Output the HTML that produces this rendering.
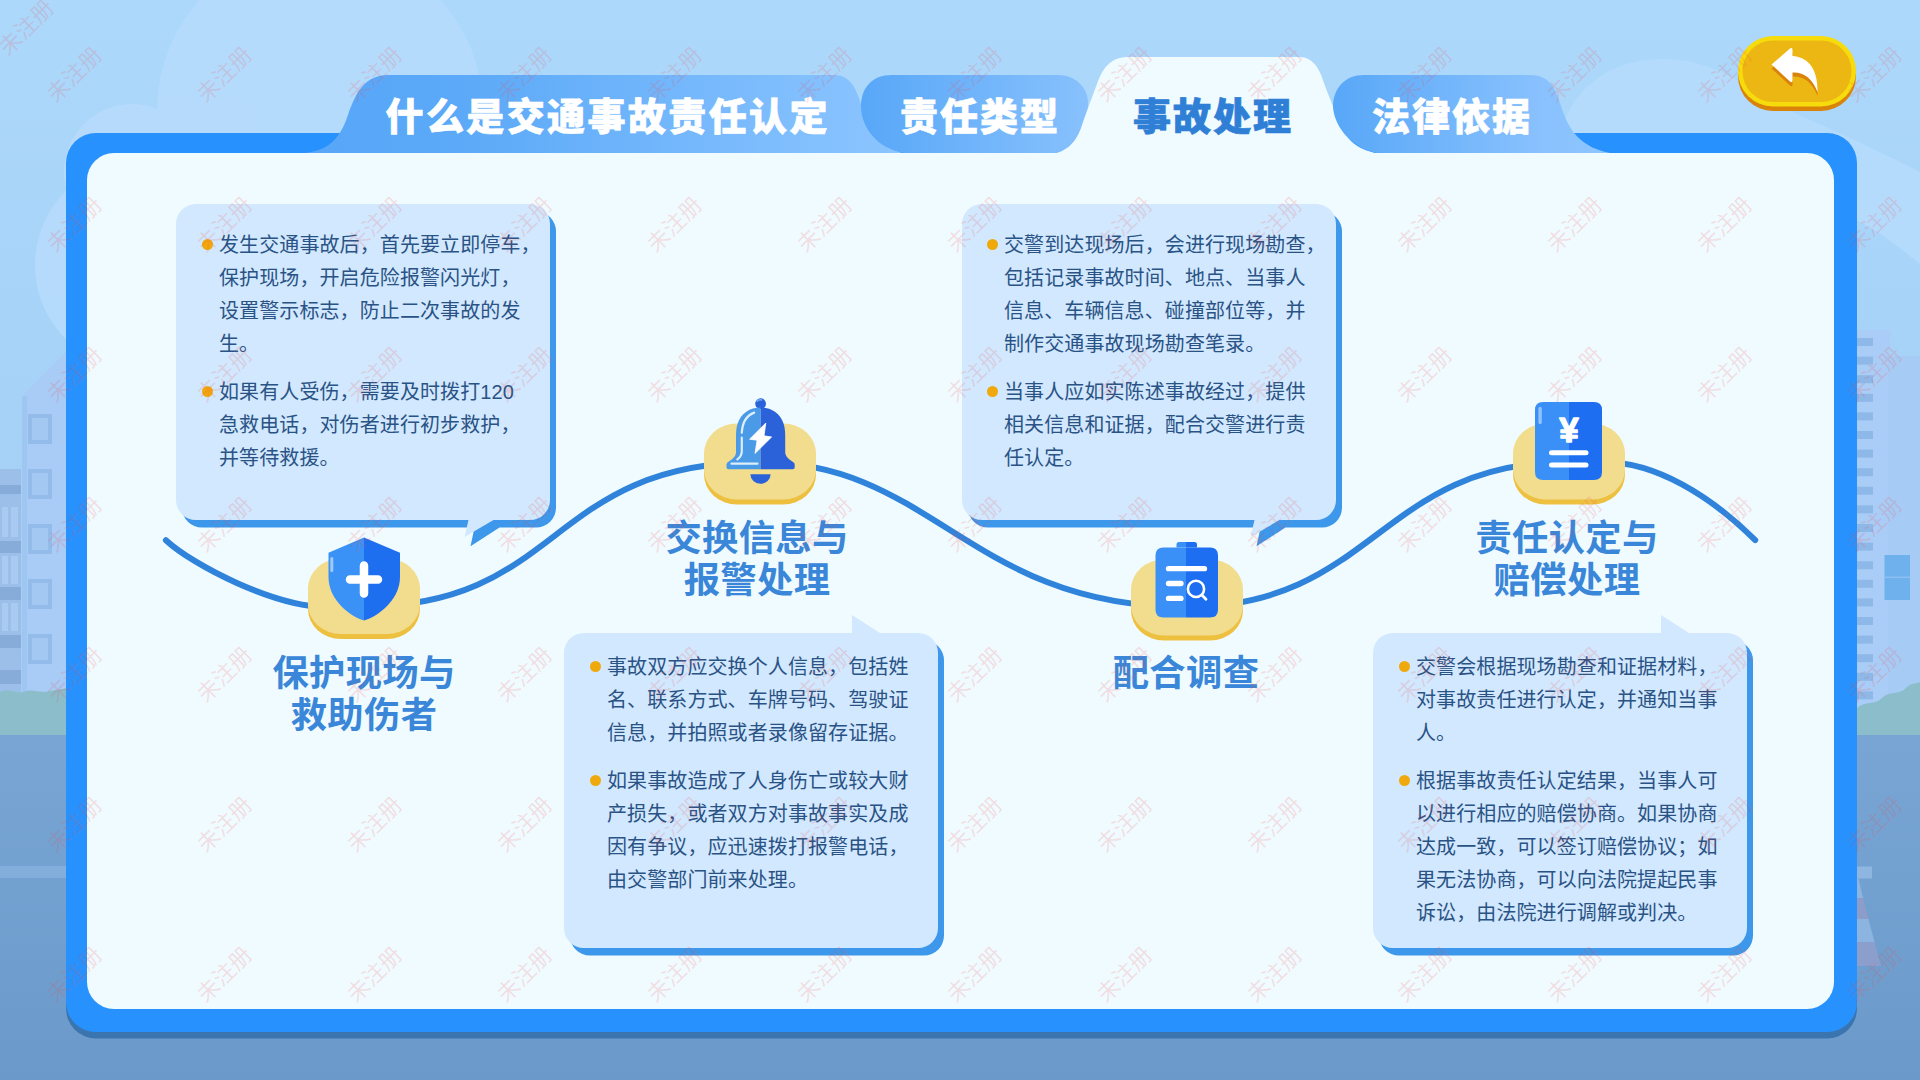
<!DOCTYPE html>
<html lang="zh-CN">
<head>
<meta charset="utf-8">
<title>事故处理</title>
<style>
html,body{margin:0;padding:0;}
body{width:1920px;height:1080px;overflow:hidden;position:relative;background:#acd8fb;
  font-family:"Liberation Sans","Noto Sans CJK SC",sans-serif;}
#stage{position:absolute;left:0;top:0;width:1920px;height:1080px;overflow:hidden;}
svg.layer{position:absolute;left:0;top:0;width:1920px;height:1080px;display:block;}
.tab{position:absolute;top:89px;-webkit-text-stroke:0.7px currentColor;height:56px;line-height:56px;font-size:38px;font-weight:900;
  letter-spacing:2px;color:#fff;white-space:nowrap;}
.tab.on{color:#2f7fd6;}
.h{position:absolute;width:300px;text-align:center;font-size:36.300px;font-weight:700;line-height:42px;
  color:#3a86d8;white-space:nowrap;letter-spacing:0.350px;}
.txt{position:absolute;font-size:20px;line-height:33px;color:#2a5385;white-space:nowrap;letter-spacing:0.1px;}
.txt p{margin:0 0 15px 0;position:relative;}
.txt p:before{content:"";position:absolute;left:-17.500px;top:10px;width:11px;height:11px;border-radius:50%;background:#f0a90c;}
.wm{position:absolute;width:120px;height:30px;margin:-15px 0 0 -60px;line-height:30px;text-align:center;
  font-size:22.400px;font-weight:400;color:rgba(240,75,75,0.165);transform:rotate(-45deg);white-space:nowrap;pointer-events:none;}
</style>
</head>
<body>
<div id="stage">
<!-- ================= BACKGROUND ================= -->
<svg class="layer" id="bg" viewBox="0 0 1920 1080">
  <defs>
    <linearGradient id="sky" x1="0" y1="0" x2="0" y2="1">
      <stop offset="0" stop-color="#acd8fb"/>
      <stop offset="1" stop-color="#a3cdf5"/>
    </linearGradient>
    <linearGradient id="ground" x1="0" y1="0" x2="0" y2="1">
      <stop offset="0" stop-color="#78a5d4"/>
      <stop offset="1" stop-color="#6b9aca"/>
    </linearGradient>
    <linearGradient id="t1" x1="0" y1="0" x2="1" y2="0">
      <stop offset="0" stop-color="#58a6f8"/>
      <stop offset="1" stop-color="#8dc5ff"/>
    </linearGradient>
  </defs>
  <rect x="0" y="0" width="1920" height="740" fill="url(#sky)"/>
  <!-- clouds -->
  <g fill="#b8dcfd" opacity="0.8">
    <circle cx="320" cy="110" r="163"/>
    <circle cx="132" cy="172" r="68"/>
    <circle cx="140" cy="265" r="105"/>
    <path d="M1560,140 C1565,100 1600,60 1660,59 C1710,59 1740,80 1765,100 C1800,116 1840,132 1920,172 L1920,264 C1890,240 1870,225 1850,218 L1850,140 Z"/>
  </g>
  <!-- left buildings -->
  <g>
    <rect x="0" y="469" width="21" height="226" fill="#9bbfe9"/>
    <g fill="#88acd9"><rect x="0" y="485" width="21" height="9"/><rect x="0" y="541" width="21" height="12"/><rect x="0" y="587" width="21" height="13"/><rect x="0" y="635" width="21" height="13"/><rect x="0" y="670" width="21" height="14"/></g>
    <g fill="#aacbf1"><rect x="2" y="507" width="6" height="30"/><rect x="11" y="507" width="7" height="30"/><rect x="2" y="556" width="6" height="28"/><rect x="11" y="556" width="7" height="28"/><rect x="2" y="603" width="6" height="28"/><rect x="11" y="603" width="7" height="28"/></g>
    <path d="M22,396 L66,352 L66,694 L22,694 Z" fill="#a8ccf6"/>
    <rect x="22" y="396" width="5" height="298" fill="#9fc5f1"/>
    <g fill="#94bcea"><rect x="28" y="414" width="24" height="30"/><rect x="32" y="418" width="16" height="22" fill="#a3c8f2"/><rect x="28" y="469" width="24" height="30"/><rect x="32" y="473" width="16" height="22" fill="#a3c8f2"/><rect x="28" y="524" width="24" height="30"/><rect x="32" y="528" width="16" height="22" fill="#a3c8f2"/><rect x="28" y="579" width="24" height="30"/><rect x="32" y="583" width="16" height="22" fill="#a3c8f2"/><rect x="28" y="634" width="24" height="30"/><rect x="32" y="638" width="16" height="22" fill="#a3c8f2"/></g>
  </g>
  <!-- right buildings -->
  <g>
    <rect x="1857" y="330" width="33" height="400" fill="#a9cdf6"/>
    <rect x="1888" y="356" width="32" height="380" fill="#a6cbf5"/>
    <g fill="#8eb8e7"><rect x="1857" y="338.0" width="16" height="8"/><rect x="1857" y="356.6" width="16" height="8"/><rect x="1857" y="375.2" width="16" height="8"/><rect x="1857" y="393.8" width="16" height="8"/><rect x="1857" y="412.4" width="16" height="8"/><rect x="1857" y="431.0" width="16" height="8"/><rect x="1857" y="449.6" width="16" height="8"/><rect x="1857" y="468.2" width="16" height="8"/><rect x="1857" y="486.8" width="16" height="8"/><rect x="1857" y="505.4" width="16" height="8"/><rect x="1857" y="524.0" width="16" height="8"/><rect x="1857" y="542.6" width="16" height="8"/><rect x="1857" y="561.2" width="16" height="8"/><rect x="1857" y="579.8" width="16" height="8"/><rect x="1857" y="598.4" width="16" height="8"/><rect x="1857" y="617.0" width="16" height="8"/><rect x="1857" y="635.6" width="16" height="8"/><rect x="1857" y="654.2" width="16" height="8"/><rect x="1857" y="672.8" width="16" height="8"/><rect x="1857" y="691.4" width="16" height="8"/></g>
    <rect x="1884.500" y="555" width="25.500" height="45" fill="#6fb1ed"/>
    <rect x="1884.500" y="576.500" width="25.500" height="1.500" fill="#8cc0f2"/>
  </g>
  <!-- bushes -->
  <path d="M0,692 C8,688 16,694 24,692 C32,688 40,694 50,691 C58,689 62,690 66,688 L66,740 L0,740 Z" fill="#8bbdcb"/>
  <path d="M1857,708 C1866,700 1874,706 1882,698 C1890,690 1898,696 1906,688 C1912,682 1917,684 1920,682 L1920,745 L1857,745 Z" fill="#8bbdcb"/>
  <!-- ground -->
  <rect x="0" y="735" width="1920" height="345" fill="url(#ground)"/>
  <rect x="0" y="866" width="100" height="12" fill="#83aedb"/>
  <!-- cone hints right -->
  <rect x="1857" y="866.500" width="15" height="12" fill="#8fb6e1"/>
  <path d="M1857,878.500 L1858.500,878.500 L1863,898 L1857,898 Z" fill="#8db5e0"/>
  <path d="M1857,898 L1863,898 L1868.500,919 L1857,919 Z" fill="#8d9dca"/>
  <path d="M1857,919 L1868.500,919 L1874.500,942 L1857,942 Z" fill="#8cb4e0"/>
  <path d="M1857,942 L1874.500,942 L1881,966 L1857,966 Z" fill="#8c9ecb"/>
</svg>

<!-- ================= FRAME + TABS ================= -->
<svg class="layer" id="frame" viewBox="0 0 1920 1080">
  <defs>
    <linearGradient id="tg1" gradientUnits="userSpaceOnUse" x1="309" y1="0" x2="902" y2="0">
      <stop offset="0" stop-color="#57a6f8"/><stop offset="0.25" stop-color="#5ba9f8"/><stop offset="1" stop-color="#8cc5ff"/>
    </linearGradient>
    <linearGradient id="tg2" gradientUnits="userSpaceOnUse" x1="861" y1="0" x2="1090" y2="0">
      <stop offset="0" stop-color="#58a7f8"/><stop offset="1" stop-color="#88c1fd"/>
    </linearGradient>
    <linearGradient id="tg4" gradientUnits="userSpaceOnUse" x1="1333" y1="0" x2="1608" y2="0">
      <stop offset="0" stop-color="#58a7f8"/><stop offset="0.75" stop-color="#88c1fd"/><stop offset="1" stop-color="#8cc5ff"/>
    </linearGradient>
  </defs>
  <!-- frame shadow + frame -->
  <rect x="66" y="139.5" width="1791" height="899" rx="30" ry="30" fill="#3a75b0"/>
  <rect x="66" y="133" width="1791" height="899" rx="30" ry="30" fill="#2792fd"/>
  <!-- tab 1 -->
  <path d="M304,153 C328,151 340,139 348,115 C356,91 366,75 388,75 L834,75 C850,75 856,88 861,104 C866,122 872,140 902,153 Z" fill="url(#tg1)"/>
  <!-- tab 2 -->
  <path d="M904,153 C878,149 861,128 861,106 C861,88 872,75 892,75 L1058,75 C1076,75 1088,88 1088,103 C1088,124 1084,153 1070,153 Z" fill="url(#tg2)"/>
  <!-- inner panel + active tab -->
  <rect x="87" y="153" width="1747" height="856" rx="27" ry="27" fill="#f0fbff"/>
  <path d="M1044,156 C1066,153 1075,144 1081,128 C1086,113 1091,100 1097,84 C1103,67 1111,57 1129,57 L1299,57 C1314,57 1320,70 1324.500,84.500 C1329,97 1336,114 1343,129 C1349,142 1358,151 1390,156 Z" fill="#f0fbff"/>
  <!-- tab 4 -->
  <path d="M1377,153 C1352,148 1335,128 1333,107.500 C1333,88 1345,75 1364,75 L1530,75 C1548,75 1554,86 1559,100 C1566,122 1574,146 1610,153 Z" fill="url(#tg4)"/>
</svg>

<div class="tab" style="left:385.500px;letter-spacing:2.400px;">什么是交通事故责任认定</div>
<div class="tab" style="left:900px;">责任类型</div>
<div class="tab on" style="left:1133px;">事故处理</div>
<div class="tab" style="left:1372px;">法律依据</div>

<!-- ================= BACK BUTTON ================= -->
<svg class="layer" id="btn" viewBox="0 0 1920 1080">
  <rect x="1738" y="41" width="118" height="70" rx="35" fill="#d9830a"/>
  <rect x="1738" y="36" width="118" height="70.5" rx="35" fill="#f6dc0c"/>
  <rect x="1742.5" y="40.5" width="109" height="61.5" rx="30.5" fill="#edb713"/>
  <path id="arw" d="M1771.5,64.5 L1790,48.5 Q1792.500,47 1792.500,50 L1792.500,56 C1806,57 1818,66 1817.500,92 C1812,78 1804,72 1792.500,72.500 L1792.500,80 Q1792.500,83.500 1790,81.500 Z" fill="#d9830a" transform="translate(0,4)"/>
  <path d="M1771.5,64.5 L1790,48.5 Q1792.500,47 1792.500,50 L1792.500,56 C1806,57 1818,66 1817.500,92 C1812,78 1804,72 1792.500,72.500 L1792.500,80 Q1792.500,83.500 1790,81.500 Z" fill="#ffffff"/>
</svg>

<!-- ================= WAVE / BUBBLES / ICONS ================= -->
<svg class="layer" id="shapes" viewBox="0 0 1920 1080">
  <!-- wave line -->
  <path d="M165.900,540.200 C193.600,565.800 275,607 327.200,607 L360,607 C565,607 545,462 760,462 C932.700,462 970.700,607 1186,607 C1374.700,607 1379.300,462 1568,462 L1603.900,462 C1655.400,462 1710.400,495.600 1755.200,540.100" fill="none" stroke="#2f83da" stroke-width="6" stroke-linecap="round"/>

  <!-- bubble 1 (tail bottom-right) -->
  <g>
    <path id="b1" d="M196,204 H530 A20,20 0 0 1 550,224 V500 A20,20 0 0 1 530,520 H493.500 L464.500,538.800 L468.500,520 H196 A20,20 0 0 1 176,500 V224 A20,20 0 0 1 196,204 Z" fill="#3d97ea" transform="translate(6,7.500)"/>
    <path d="M196,204 H530 A20,20 0 0 1 550,224 V500 A20,20 0 0 1 530,520 H493.500 L464.500,537 L468.500,520 H196 A20,20 0 0 1 176,500 V224 A20,20 0 0 1 196,204 Z" fill="#d2e8fe"/>
  </g>
  <!-- bubble 3 -->
  <g transform="translate(786,0)">
    <path d="M196,204 H530 A20,20 0 0 1 550,224 V500 A20,20 0 0 1 530,520 H493.500 L464.500,538.800 L468.500,520 H196 A20,20 0 0 1 176,500 V224 A20,20 0 0 1 196,204 Z" fill="#3d97ea" transform="translate(6,7.500)"/>
    <path d="M196,204 H530 A20,20 0 0 1 550,224 V500 A20,20 0 0 1 530,520 H493.500 L464.500,537 L468.500,520 H196 A20,20 0 0 1 176,500 V224 A20,20 0 0 1 196,204 Z" fill="#d2e8fe"/>
  </g>
  <!-- bubble 2 (tail top-right) -->
  <g>
    <path d="M584,633 H852 V615 L880,633 H918 A20,20 0 0 1 938,653 V928 A20,20 0 0 1 918,948 H584 A20,20 0 0 1 564,928 V653 A20,20 0 0 1 584,633 Z" fill="#3d97ea" transform="translate(6,7.500)"/>
    <path d="M584,633 H852 V615 L880,633 H918 A20,20 0 0 1 938,653 V928 A20,20 0 0 1 918,948 H584 A20,20 0 0 1 564,928 V653 A20,20 0 0 1 584,633 Z" fill="#d2e8fe"/>
  </g>
  <!-- bubble 4 -->
  <g transform="translate(809,0)">
    <path d="M584,633 H852 V615 L880,633 H918 A20,20 0 0 1 938,653 V928 A20,20 0 0 1 918,948 H584 A20,20 0 0 1 564,928 V653 A20,20 0 0 1 584,633 Z" fill="#3d97ea" transform="translate(6,7.500)"/>
    <path d="M584,633 H852 V615 L880,633 H918 A20,20 0 0 1 938,653 V928 A20,20 0 0 1 918,948 H584 A20,20 0 0 1 564,928 V653 A20,20 0 0 1 584,633 Z" fill="#d2e8fe"/>
  </g>

  <!-- pads -->
  <g id="pads">
    <rect x="308" y="563.500" width="112" height="75.500" rx="33" ry="30" fill="#edc13f"/><rect x="308" y="558.500" width="112" height="75.500" rx="33" ry="30" fill="#f2dc8d"/>
    <rect x="704" y="428.500" width="112" height="76" rx="33" ry="30" fill="#edc13f"/><rect x="704" y="423.500" width="112" height="76" rx="33" ry="30" fill="#f2dc8d"/>
    <rect x="1131" y="564.500" width="112" height="76" rx="33" ry="30" fill="#edc13f"/><rect x="1131" y="559.500" width="112" height="76" rx="33" ry="30" fill="#f2dc8d"/>
    <rect x="1513" y="428.500" width="112" height="76" rx="33" ry="30" fill="#edc13f"/><rect x="1513" y="423.500" width="112" height="76" rx="33" ry="30" fill="#f2dc8d"/>
  </g>

  <!-- icon 1: shield -->
  <g id="shield">
    <path d="M364,537.500 L328.500,552.800 V577 C328.500,597 345,613 361,619.500 Q364,620.600 364,620.600 Z" fill="#3b92f6"/>
    <path d="M364,537.500 L400,552.800 V577 C400,597 383,613 367,619.500 Q364,620.600 364,620.600 Z" fill="#1e6ef0"/>
    <rect x="330.300" y="557" width="3" height="15" rx="1.500" fill="#ffffff" opacity="0.5"/>
    <path d="M350,579.500 H378 M364,565.500 V593.500" stroke="#ffffff" stroke-width="8.500" stroke-linecap="round" fill="none"/>
  </g>

  <!-- icon 2: bell -->
  <g id="bell">
    <circle cx="760.600" cy="403.700" r="5.400" fill="#2b62d9"/>
    <path d="M757.300,401.200 A4,4 0 0 1 761.500,400" fill="none" stroke="#6fb0f0" stroke-width="1.600" stroke-linecap="round"/>
    <path d="M760.600,407.400 C750,407.400 741,413 737.500,424 C736.300,428 736,432 736,436 V452.500 C736,457 731,460 727.500,462.500 Q726.500,463.300 726.500,464.500 V467.300 Q726.500,469.300 728.500,469.300 H760.600 Z" fill="#4a9ae7"/>
    <path d="M760.600,407.400 C771.200,407.400 780.200,413 783.700,424 C784.900,428 785.200,432 785.200,436 V452.500 C785.200,457 790.200,460 793.700,462.500 Q794.700,463.300 794.700,464.500 V467.300 Q794.700,469.300 792.700,469.300 H760.600 Z" fill="#2b62d9"/>
    <path d="M754.200,412.600 C746.500,415.500 742.300,423 741.800,432.800" fill="none" stroke="#dbeefb" stroke-width="2.200" stroke-linecap="round"/>
    <path d="M741.800,437.600 V451 C741.800,455 740,457.500 737.400,459.400" fill="none" stroke="#dbeefb" stroke-width="2.200" stroke-linecap="round"/>
    <path d="M731.500,463.700 H757.500" stroke="#dbeefb" stroke-width="2.200" stroke-linecap="round"/>
    <path d="M750.400,474.200 A10.100,9.600 0 0 0 770.600,474.200 Z" fill="#2b62d9"/>
    <path d="M765.800,423 L749.600,439.200 L757.100,440.200 L755,453.400 L771.600,437 L764,435.800 Z" fill="#ffffff" stroke="#ffffff" stroke-width="0.800" stroke-linejoin="round"/>
  </g>

  <!-- icon 3: clipboard -->
  <g id="clip">
    <path d="M1176.500,547.500 V544.500 Q1176.500,542 1179,542 H1186 V547.500 Z" fill="#3a90f6"/>
    <path d="M1186,542 H1194.500 Q1197,542 1197,544.500 V547.500 H1186 Z" fill="#1e6ef2"/>
    <path d="M1186,547.500 V617.500 H1163.500 Q1155.500,617.500 1155.500,609.500 V555.500 Q1155.500,547.500 1163.500,547.500 Z" fill="#3a90f6"/>
    <path d="M1186,547.500 V617.500 H1210 Q1218,617.500 1218,609.500 V555.500 Q1218,547.500 1210,547.500 Z" fill="#1e6ef2"/>
    <path d="M1168.500,568.700 H1204.500 M1168.500,583.500 H1181 M1168.500,598.400 H1181" stroke="#ffffff" stroke-width="5.300" stroke-linecap="round" fill="none"/>
    <circle cx="1196" cy="588.900" r="8.100" fill="none" stroke="#ffffff" stroke-width="2.600"/>
    <path d="M1201.900,595 L1206,599.300" stroke="#ffffff" stroke-width="2.800" stroke-linecap="round"/>
  </g>

  <!-- icon 4: receipt -->
  <g id="rcpt">
    <path d="M1569,402 V480 H1543 Q1535,480 1535,472 V410 Q1535,402 1543,402 Z" fill="#3a90f6"/>
    <path d="M1569,402 V480 H1594 Q1602,480 1602,472 V410 Q1602,402 1594,402 Z" fill="#1e6ef2"/>
    <rect x="1538.400" y="406.800" width="3.400" height="17.400" rx="1.700" fill="#ffffff" opacity="0.45"/>
    <path d="M1551.500,452.800 H1586 M1551.500,465 H1586" stroke="#ffffff" stroke-width="5" stroke-linecap="round" fill="none"/>
    <text x="1569" y="441.500" text-anchor="middle" font-family="'Liberation Sans','Noto Sans CJK SC',sans-serif" font-size="35" font-weight="700" fill="#ffffff" stroke="#ffffff" stroke-width="1.400" stroke-linejoin="round">¥</text>
  </g>
</svg>

<!-- ================= HEADINGS ================= -->
<div class="h" style="left:214px;top:653px;">保护现场与<br>救助伤者</div>
<div class="h" style="left:607px;top:518px;">交换信息与<br>报警处理</div>
<div class="h" style="left:1036px;top:652.500px;">配合调查</div>
<div class="h" style="left:1417px;top:518px;">责任认定与<br>赔偿处理</div>

<!-- ================= BUBBLE TEXT ================= -->
<div class="txt" style="left:219px;top:229px;">
<p>发生交通事故后，首先要立即停车，<br>保护现场，开启危险报警闪光灯，<br>设置警示标志，防止二次事故的发<br>生。</p>
<p>如果有人受伤，需要及时拨打120<br>急救电话，对伤者进行初步救护，<br>并等待救援。</p>
</div>
<div class="txt" style="left:607px;top:651px;">
<p>事故双方应交换个人信息，包括姓<br>名、联系方式、车牌号码、驾驶证<br>信息，并拍照或者录像留存证据。</p>
<p>如果事故造成了人身伤亡或较大财<br>产损失，或者双方对事故事实及成<br>因有争议，应迅速拨打报警电话，<br>由交警部门前来处理。</p>
</div>
<div class="txt" style="left:1004px;top:229px;">
<p>交警到达现场后，会进行现场勘查，<br>包括记录事故时间、地点、当事人<br>信息、车辆信息、碰撞部位等，并<br>制作交通事故现场勘查笔录。</p>
<p>当事人应如实陈述事故经过，提供<br>相关信息和证据，配合交警进行责<br>任认定。</p>
</div>
<div class="txt" style="left:1416px;top:651px;">
<p>交警会根据现场勘查和证据材料，<br>对事故责任进行认定，并通知当事<br>人。</p>
<p>根据事故责任认定结果，当事人可<br>以进行相应的赔偿协商。如果协商<br>达成一致，可以签订赔偿协议；如<br>果无法协商，可以向法院提起民事<br>诉讼，由法院进行调解或判决。</p>
</div>


<!-- ================= WATERMARKS ================= -->
<div class="wm" style="left:27px;top:28px;">未注册</div>
<div class="wm" style="left:75px;top:75px;">未注册</div><div class="wm" style="left:225px;top:75px;">未注册</div><div class="wm" style="left:375px;top:75px;">未注册</div><div class="wm" style="left:525px;top:75px;">未注册</div><div class="wm" style="left:675px;top:75px;">未注册</div><div class="wm" style="left:825px;top:75px;">未注册</div><div class="wm" style="left:975px;top:75px;">未注册</div><div class="wm" style="left:1125px;top:75px;">未注册</div><div class="wm" style="left:1275px;top:75px;">未注册</div><div class="wm" style="left:1425px;top:75px;">未注册</div><div class="wm" style="left:1575px;top:75px;">未注册</div><div class="wm" style="left:1725px;top:75px;">未注册</div><div class="wm" style="left:1875px;top:75px;">未注册</div>
<div class="wm" style="left:75px;top:225px;">未注册</div><div class="wm" style="left:225px;top:225px;">未注册</div><div class="wm" style="left:375px;top:225px;">未注册</div><div class="wm" style="left:525px;top:225px;">未注册</div><div class="wm" style="left:675px;top:225px;">未注册</div><div class="wm" style="left:825px;top:225px;">未注册</div><div class="wm" style="left:975px;top:225px;">未注册</div><div class="wm" style="left:1125px;top:225px;">未注册</div><div class="wm" style="left:1275px;top:225px;">未注册</div><div class="wm" style="left:1425px;top:225px;">未注册</div><div class="wm" style="left:1575px;top:225px;">未注册</div><div class="wm" style="left:1725px;top:225px;">未注册</div><div class="wm" style="left:1875px;top:225px;">未注册</div>
<div class="wm" style="left:75px;top:375px;">未注册</div><div class="wm" style="left:225px;top:375px;">未注册</div><div class="wm" style="left:375px;top:375px;">未注册</div><div class="wm" style="left:525px;top:375px;">未注册</div><div class="wm" style="left:675px;top:375px;">未注册</div><div class="wm" style="left:825px;top:375px;">未注册</div><div class="wm" style="left:975px;top:375px;">未注册</div><div class="wm" style="left:1125px;top:375px;">未注册</div><div class="wm" style="left:1275px;top:375px;">未注册</div><div class="wm" style="left:1425px;top:375px;">未注册</div><div class="wm" style="left:1575px;top:375px;">未注册</div><div class="wm" style="left:1725px;top:375px;">未注册</div><div class="wm" style="left:1875px;top:375px;">未注册</div>
<div class="wm" style="left:75px;top:525px;">未注册</div><div class="wm" style="left:225px;top:525px;">未注册</div><div class="wm" style="left:375px;top:525px;">未注册</div><div class="wm" style="left:525px;top:525px;">未注册</div><div class="wm" style="left:675px;top:525px;">未注册</div><div class="wm" style="left:825px;top:525px;">未注册</div><div class="wm" style="left:975px;top:525px;">未注册</div><div class="wm" style="left:1125px;top:525px;">未注册</div><div class="wm" style="left:1275px;top:525px;">未注册</div><div class="wm" style="left:1425px;top:525px;">未注册</div><div class="wm" style="left:1575px;top:525px;">未注册</div><div class="wm" style="left:1725px;top:525px;">未注册</div><div class="wm" style="left:1875px;top:525px;">未注册</div>
<div class="wm" style="left:75px;top:675px;">未注册</div><div class="wm" style="left:225px;top:675px;">未注册</div><div class="wm" style="left:375px;top:675px;">未注册</div><div class="wm" style="left:525px;top:675px;">未注册</div><div class="wm" style="left:675px;top:675px;">未注册</div><div class="wm" style="left:825px;top:675px;">未注册</div><div class="wm" style="left:975px;top:675px;">未注册</div><div class="wm" style="left:1125px;top:675px;">未注册</div><div class="wm" style="left:1275px;top:675px;">未注册</div><div class="wm" style="left:1425px;top:675px;">未注册</div><div class="wm" style="left:1575px;top:675px;">未注册</div><div class="wm" style="left:1725px;top:675px;">未注册</div><div class="wm" style="left:1875px;top:675px;">未注册</div>
<div class="wm" style="left:75px;top:825px;">未注册</div><div class="wm" style="left:225px;top:825px;">未注册</div><div class="wm" style="left:375px;top:825px;">未注册</div><div class="wm" style="left:525px;top:825px;">未注册</div><div class="wm" style="left:675px;top:825px;">未注册</div><div class="wm" style="left:825px;top:825px;">未注册</div><div class="wm" style="left:975px;top:825px;">未注册</div><div class="wm" style="left:1125px;top:825px;">未注册</div><div class="wm" style="left:1275px;top:825px;">未注册</div><div class="wm" style="left:1425px;top:825px;">未注册</div><div class="wm" style="left:1575px;top:825px;">未注册</div><div class="wm" style="left:1725px;top:825px;">未注册</div><div class="wm" style="left:1875px;top:825px;">未注册</div>
<div class="wm" style="left:75px;top:975px;">未注册</div><div class="wm" style="left:225px;top:975px;">未注册</div><div class="wm" style="left:375px;top:975px;">未注册</div><div class="wm" style="left:525px;top:975px;">未注册</div><div class="wm" style="left:675px;top:975px;">未注册</div><div class="wm" style="left:825px;top:975px;">未注册</div><div class="wm" style="left:975px;top:975px;">未注册</div><div class="wm" style="left:1125px;top:975px;">未注册</div><div class="wm" style="left:1275px;top:975px;">未注册</div><div class="wm" style="left:1425px;top:975px;">未注册</div><div class="wm" style="left:1575px;top:975px;">未注册</div><div class="wm" style="left:1725px;top:975px;">未注册</div><div class="wm" style="left:1875px;top:975px;">未注册</div>
</div>
</body>
</html>
